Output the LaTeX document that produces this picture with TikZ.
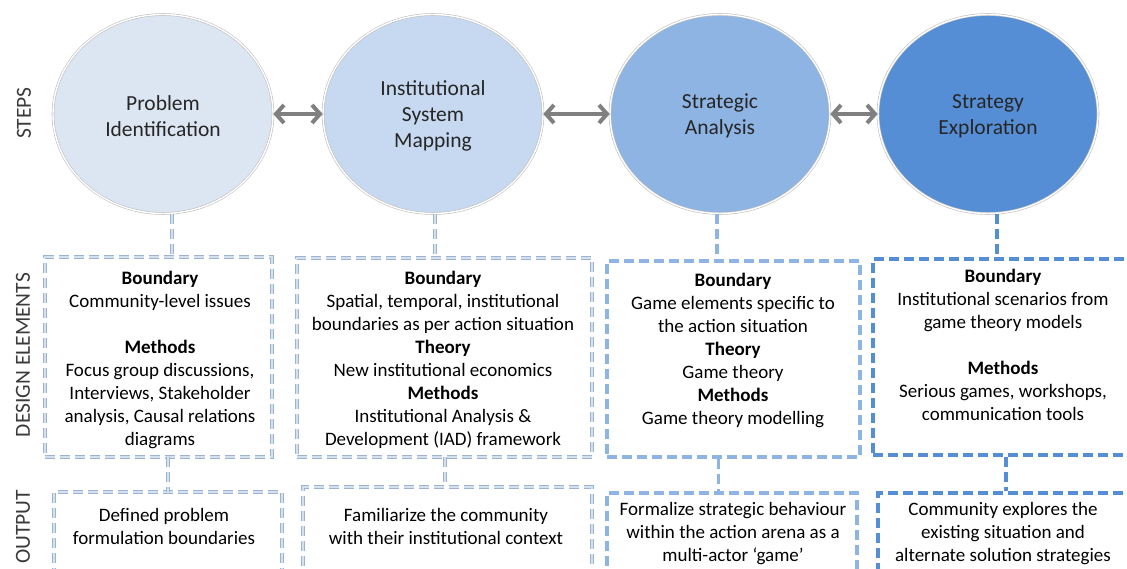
\documentclass[tikz,border=0pt]{standalone}
\usepackage{fontspec}
\setmainfont{Carlito}
\usetikzlibrary{shapes.geometric,arrows.meta,calc}
\definecolor{cA}{HTML}{DCE6F2}
\definecolor{cB}{HTML}{C6D9F1}
\definecolor{cC}{HTML}{8EB4E3}
\definecolor{cD}{HTML}{558ED5}
\definecolor{edgeA}{HTML}{9DB3CF}
\definecolor{fillA}{HTML}{D3E0F0}
\definecolor{arrowgray}{HTML}{808080}
\definecolor{txt}{HTML}{262626}
\definecolor{sidetxt}{HTML}{3A3A3A}
\begin{document}
\begin{tikzpicture}[x=1pt,y=-1pt,
  stepnode/.style={ellipse, draw=black!25, line width=0.6pt, double=white, double distance=1.4pt, minimum width=220pt, minimum height=199pt, inner sep=0pt, align=center, font=\fontsize{21.5}{26}\selectfont, text=txt},
  sidelabel/.style={rotate=90, font=\fontsize{21.5}{26}\selectfont, text=sidetxt, inner sep=0pt},
  dashA/.style={draw=edgeA, line width=0.8pt, double=fillA, double distance=2pt, dash pattern=on 10pt off 5pt},
  dashC/.style={draw=cC, line width=3.5pt, dash pattern=on 10pt off 5pt},
  dashD/.style={draw=cD, line width=3.5pt, dash pattern=on 10pt off 5pt},
  boxnode/.style={rectangle, inner sep=0pt},
  boxtext/.style={align=center, font=\fontsize{19}{23}\selectfont, text=black, inner sep=0pt, anchor=north},
  link/.style={draw=arrowgray, line width=4pt, {Straight Barb[length=8pt,width=18pt]}-{Straight Barb[length=8pt,width=18pt]}},
]
\useasboundingbox (0,0) rectangle (1127,569);
\clip (0,0) rectangle (1127,569);

% side labels
\node[sidelabel] (lsteps) at (24,113) {STEPS};
\node[sidelabel] (ldesign) at (23,355) {DESIGN ELEMENTS};
\node[sidelabel] (loutput) at (23,527) {OUTPUT};

% steps
\node[stepnode, fill=cA] (c1) at (163,114) {\rule{0pt}{19pt}Problem\\Identification};
\node[stepnode, fill=cB] (c2) at (433,114) {\rule{0pt}{19pt}Institutional\\System\\Mapping};
\node[stepnode, fill=cC] (c3) at (720,114) {\rule{0pt}{19pt}Strategic\\Analysis};
\node[stepnode, fill=cD] (c4) at (988,114) {\rule{0pt}{19pt}Strategy\\Exploration};

\draw[link] (c1) -- (c2);
\draw[link] (c2) -- (c3);
\draw[link] (c3) -- (c4);

% design element boxes
\node[boxnode, dashA, minimum width=227pt, minimum height=200pt] (d1) at (158.5,357) {};
\node[boxnode, dashA, minimum width=295pt, minimum height=199pt] (d2) at (444.5,357.5) {};
\node[boxnode, dashC, minimum width=253pt, minimum height=196pt] (d3) at (733.5,359) {};
\node[boxnode, dashD, minimum width=260pt, minimum height=196pt] (d4) at (1003,357) {};

% output boxes
\node[boxnode, dashA, minimum width=228pt, minimum height=128pt] (o1) at (168,556) {};
\node[boxnode, dashA, minimum width=289pt, minimum height=133pt] (o2) at (447.5,553.5) {};
\node[boxnode, dashC, minimum width=250pt, minimum height=127pt] (o3) at (732,556.5) {};
\node[boxnode, dashD, minimum width=254pt, minimum height=127pt] (o4) at (1005,556.5) {};

% connectors
\coordinate (u1) at ($(c1.south)+(9,0)$);
\coordinate (w1) at ($(d1.south)+(9.5,0)$);
\coordinate (u2) at ($(c2.south)+(2,0)$);
\coordinate (w2) at ($(d2.south)+(0.5,0)$);
\coordinate (u3) at ($(c3.south)+(-3,0)$);
\coordinate (w3) at ($(d3.south)+(-15,0)$);
\coordinate (u4) at ($(c4.south)+(9,0)$);
\coordinate (w4) at ($(d4.south)+(3,0)$);
\draw[dashA] (u1) -- (u1 |- d1.north);
\draw[dashA] (w1) -- (w1 |- o1.north);
\draw[dashA] (u2) -- (u2 |- d2.north);
\draw[dashA] (w2) -- (w2 |- o2.north);
\draw[dashC] (u3) -- (u3 |- d3.north);
\draw[dashC] (w3) -- (w3 |- o3.north);
\draw[dashD] (u4) -- (u4 |- d4.north);
\draw[dashD] (w4) -- (w4 |- o4.north);

% design element texts
\node[boxtext] (t1) at (160,271) {\textbf{Boundary}\\Community-level issues\\[23pt]\textbf{Methods}\\Focus group discussions,\\Interviews, Stakeholder\\analysis, Causal relations\\diagrams};
\node[boxtext] (t2) at (443,271) {\textbf{Boundary}\\Spatial, temporal, institutional\\boundaries as per action situation\\\textbf{Theory}\\New institutional economics\\\textbf{Methods}\\Institutional Analysis \&\\Development (IAD) framework};
\node[boxtext] (t3) at (733,273) {\textbf{Boundary}\\Game elements specific to\\the action situation\\\textbf{Theory}\\Game theory\\\textbf{Methods}\\Game theory modelling};
\node[boxtext] (t4) at (1003,269) {\textbf{Boundary}\\Institutional scenarios from\\game theory models\\[23pt]\textbf{Methods}\\Serious games, workshops,\\communication tools};

% output texts
\node[boxtext] (p1) at (164,508) {Defined problem\\formulation boundaries};
\node[boxtext] (p2) at (446,508) {Familiarize the community\\with their institutional context};
\node[boxtext] (p3) at (733,502) {Formalize strategic behaviour\\within the action arena as a\\multi-actor ‘game’};
\node[boxtext] (p4) at (1003,502) {Community explores the\\existing situation and\\alternate solution strategies};
\end{tikzpicture}
\end{document}
